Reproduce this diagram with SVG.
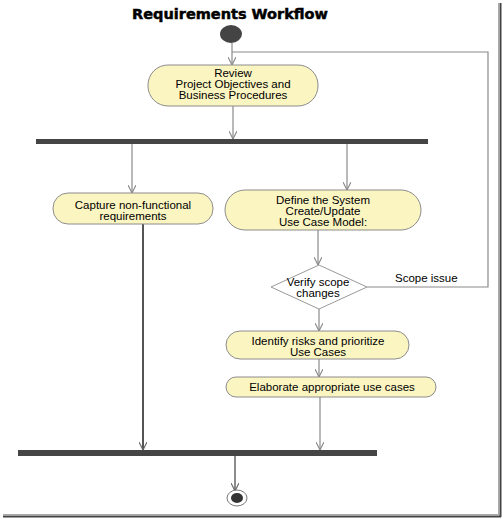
<svg xmlns="http://www.w3.org/2000/svg" width="504" height="519" viewBox="0 0 504 519">
<defs>
<marker id="arr" viewBox="0 0 10 10" refX="10" refY="5" markerWidth="8" markerHeight="8" markerUnits="userSpaceOnUse" orient="auto">
<path d="M0,0 L10,5 L0,10" fill="none" stroke="#888" stroke-width="1.4"/>
</marker>
<marker id="arrd" viewBox="0 0 10 10" refX="10" refY="5" markerWidth="8" markerHeight="8" markerUnits="userSpaceOnUse" orient="auto">
<path d="M0,0 L10,5 L0,10" fill="none" stroke="#666" stroke-width="1.4"/>
</marker>
</defs>
<style>
.node{fill:#fbf5c2;stroke:#8c8c8c;stroke-width:1;}
.t{font-family:"Liberation Sans",Arial,sans-serif;font-size:11.5px;fill:#000;text-anchor:middle;}
.c{fill:none;stroke:#8a8a8a;stroke-width:1.2;}
.bar{fill:#454545;}
</style>
<rect width="504" height="519" fill="#fff"/>
<g id="frame">
<line x1="498.5" y1="3" x2="498.5" y2="515" stroke="#aaa" stroke-width="1"/>
<line x1="500.5" y1="3" x2="500.5" y2="517" stroke="#444" stroke-width="2"/>
<line x1="3" y1="514.5" x2="499" y2="514.5" stroke="#aaa" stroke-width="1"/>
<line x1="3" y1="516.5" x2="501" y2="516.5" stroke="#444" stroke-width="2"/>
</g>
<text x="230" y="19" style="font-family:'DejaVu Sans',sans-serif;font-weight:bold;font-size:14.5px;text-anchor:middle;stroke:#000;stroke-width:0.5">Requirements Workflow</text>
<g id="connectors">
<line class="c" x1="232" y1="43" x2="232" y2="65" marker-end="url(#arr)"/>
<polyline class="c" points="367,287 488,287 488,52 232,52"/>
<line class="c" x1="233" y1="106" x2="233" y2="139" marker-end="url(#arr)"/>
<line class="c" x1="132" y1="144" x2="132" y2="193" marker-end="url(#arr)"/>
<line class="c" x1="347" y1="144" x2="347" y2="190" marker-end="url(#arr)"/>
<line class="c" x1="318" y1="230" x2="318" y2="265" marker-end="url(#arr)"/>
<line class="c" x1="319" y1="309" x2="319" y2="331" marker-end="url(#arr)"/>
<line class="c" x1="319" y1="359" x2="319" y2="377" marker-end="url(#arr)"/>
<line class="c" x1="320" y1="397" x2="320" y2="450" marker-end="url(#arr)"/>
<line x1="143" y1="224" x2="143" y2="450" stroke="#555" stroke-width="2" marker-end="url(#arrd)"/>
<line x1="235" y1="456" x2="235" y2="491" stroke="#666" stroke-width="1.5" marker-end="url(#arrd)"/>
<text x="395" y="282" class="t" style="text-anchor:start">Scope issue</text>
</g>
<g id="start"><ellipse cx="231" cy="34" rx="11" ry="9" fill="#444"/></g>
<g id="review">
<rect class="node" x="148" y="65" width="170" height="41" rx="20" ry="20"/>
<text class="t" x="233" y="77">Review</text>
<text class="t" x="233" y="88">Project Objectives and</text>
<text class="t" x="233" y="99">Business Procedures</text>
</g>
<g id="fork"><rect class="bar" x="36" y="139" width="392" height="5"/></g>
<g id="capture">
<rect class="node" x="53" y="193" width="160" height="31" rx="15" ry="15"/>
<text class="t" x="133" y="209">Capture non-functional</text>
<text class="t" x="133" y="220">requirements</text>
</g>
<g id="define">
<rect class="node" x="225" y="190" width="196" height="40" rx="20" ry="20"/>
<text class="t" x="323" y="204">Define the System</text>
<text class="t" x="323" y="215">Create/Update</text>
<text class="t" x="323" y="226">Use Case Model:</text>
</g>
<g id="verify">
<polygon points="319,265 367,287 319,309 271,287" fill="#fff" stroke="#999" stroke-width="1"/>
<text class="t" x="318" y="286">Verify scope</text>
<text class="t" x="318" y="297">changes</text>
</g>
<g id="identify">
<rect class="node" x="226" y="331" width="183" height="28" rx="14" ry="14"/>
<text class="t" x="318" y="345">Identify risks and prioritize</text>
<text class="t" x="318" y="356">Use Cases</text>
</g>
<g id="elaborate">
<rect class="node" x="226" y="377" width="210" height="20" rx="10" ry="10"/>
<text class="t" x="332" y="391">Elaborate appropriate use cases</text>
</g>
<g id="join"><rect class="bar" x="18" y="450" width="359" height="6"/></g>
<g id="end">
<ellipse cx="237" cy="498" rx="10" ry="8" fill="#fff" stroke="#777" stroke-width="1"/>
<ellipse cx="237" cy="498" rx="6" ry="5" fill="#333"/>
</g>
</svg>
